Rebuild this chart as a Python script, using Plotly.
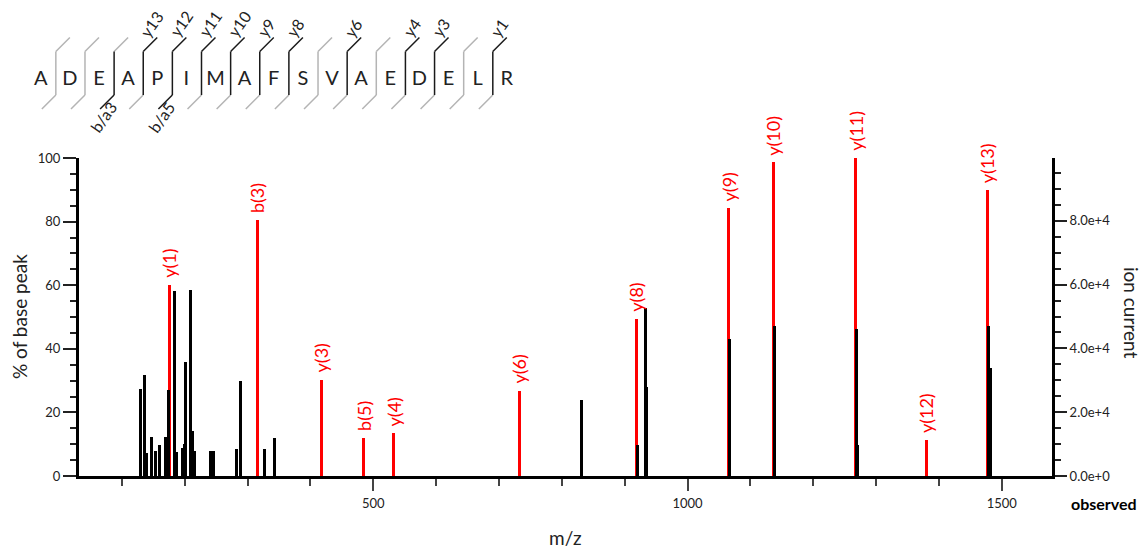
import plotly.graph_objects as go

# ---------------- data ----------------
sequence = list("ADEAPIMAFSVAEDELR")
y_ions_observed = [13, 12, 11, 10, 9, 8, 6, 4, 3, 1]
b_ions_observed = [3, 5]

matched_mz = [175.12, 316.11, 417.25, 484.20, 532.27, 732.35, 918.45,
              1065.52, 1136.56, 1267.60, 1380.68, 1477.74]
matched_pct = [60.0, 80.4, 30.3, 12.1, 13.4, 26.8, 49.4,
               84.2, 98.6, 100.0, 11.2, 89.8]
matched_labels = ["y(1)", "b(3)", "y(3)", "b(5)", "y(4)", "y(6)", "y(8)",
                  "y(9)", "y(10)", "y(11)", "y(12)", "y(13)"]

other_mz = [129.9, 135.6, 138.8, 146.7, 154.2, 159.5, 169.0, 173.8, 183.3,
            187.1, 196.7, 198.8, 200.8, 209.9, 212.6, 215.2, 240.6, 245.0,
            282.0, 288.4, 326.5, 342.5, 831.1, 920.1, 932.8, 935.5, 1066.5,
            1138.1, 1268.6, 1270.8, 1478.8, 1481.5]
other_pct = [27.5, 31.8, 7.1, 12.4, 8.0, 9.9, 12.2, 27.1, 58.2,
             7.7, 8.9, 10.2, 36.0, 58.5, 14.3, 8.0, 8.0, 8.0,
             8.4, 30.0, 8.4, 11.9, 24.0, 9.6, 52.7, 28.1, 43.1,
             47.2, 46.2, 9.9, 47.2, 34.0]

base_peak_current = 99700
mz_range = [31.7, 1580]

# ---------------- style ----------------
W, H = 1145, 549
FONT = "Lato, 'Open Sans', sans-serif"
RED = "#ff0000"
INK = "#222222"
GRAY = "#b4b4b4"
BAR_W = 4.8


def px(x):
    return x / W


def py(y):
    return 1 - y / H


fig = go.Figure()

fig.add_trace(go.Bar(x=matched_mz, y=matched_pct, width=BAR_W,
                     marker=dict(color=RED, line=dict(width=0)),
                     xaxis="x", yaxis="y", hoverinfo="x+y", showlegend=False))
fig.add_trace(go.Bar(x=other_mz, y=other_pct, width=BAR_W,
                     marker=dict(color="#000000", line=dict(width=0)),
                     xaxis="x", yaxis="y", hoverinfo="x+y", showlegend=False))
# trace on the ion-current axis so it is drawn
fig.add_trace(go.Scatter(x=[mz_range[0]], y=[0], mode="markers",
                         marker=dict(size=0.1, opacity=0), xaxis="x", yaxis="y2",
                         hoverinfo="skip", showlegend=False))

annotations = []
for mz, v, t in zip(matched_mz, matched_pct, matched_labels):
    annotations.append(dict(x=mz, y=v, xref="x", yref="y", text=t, showarrow=False,
                            textangle=-90, xanchor="center", yanchor="bottom", yshift=5,
                            font=dict(family=FONT, size=18, color=RED)))

# ---------------- sequence diagram ----------------
n = len(sequence)
fig.add_trace(go.Scatter(x=list(range(n)), y=[80] * n, mode="text", text=sequence,
                         textfont=dict(family=FONT, size=20, color=INK),
                         xaxis="x2", yaxis="y3", hoverinfo="skip", showlegend=False))

TOP, BOT, DX, DY = 51.5, 95, 0.48, 14
gx, gy, kx, ky = [], [], [], []


def seg(xs, ys, on):
    if on:
        kx.extend(xs + [None]); ky.extend(ys + [None])
    else:
        gx.extend(xs + [None]); gy.extend(ys + [None])


for i in range(n - 1):
    s = i + 0.52
    y_num = n - 1 - i
    b_num = i + 1
    y_on = y_num in y_ions_observed
    b_on = b_num in b_ions_observed
    seg([s, s + DX], [TOP, TOP - DY], y_on)
    seg([s, s], [TOP, BOT], y_on or b_on)
    seg([s, s - DX], [BOT, BOT + DY], b_on)
    if y_on:
        annotations.append(dict(x=s - 0.33, y=43, xref="x2", yref="y3", text=f"y{y_num}",
                                showarrow=False, textangle=-55, xanchor="left", yanchor="bottom",
                                font=dict(family=FONT, size=16, color=INK)))
    if b_on:
        annotations.append(dict(x=s + 0.33, y=95, xref="x2", yref="y3", text=f"b/a{b_num}",
                                showarrow=False, textangle=-55, xanchor="right", yanchor="top",
                                font=dict(family=FONT, size=16, color=INK)))

fig.add_trace(go.Scatter(x=gx, y=gy, mode="lines", line=dict(color=GRAY, width=1.5),
                         xaxis="x2", yaxis="y3", hoverinfo="skip", showlegend=False))
fig.add_trace(go.Scatter(x=kx, y=ky, mode="lines", line=dict(color="#1a1a1a", width=1.5),
                         xaxis="x2", yaxis="y3", hoverinfo="skip", showlegend=False))

# ---------------- axis titles ----------------
title_common = dict(xref="paper", yref="paper", showarrow=False,
                    xanchor="center", yanchor="middle")
annotations += [
    dict(x=px(19), y=py(317), text="% of base peak", textangle=-90,
         font=dict(family=FONT, size=19, color=INK), **title_common),
    dict(x=px(1132), y=py(312), text="ion current", textangle=90,
         font=dict(family=FONT, size=19, color=INK), **title_common),
    dict(x=px(565), y=py(537), text="m/z",
         font=dict(family=FONT, size=19, color=INK), **title_common),
    dict(x=px(1104), y=py(503), text="<b>observed</b>",
         font=dict(family=FONT, size=16, color="#000"), **title_common),
]

tickfont = dict(family=FONT, size=13, color=INK)
fig.update_layout(
    width=W, height=H, template="none",
    margin=dict(l=0, r=0, t=0, b=0, pad=0),
    paper_bgcolor="white", plot_bgcolor="white",
    barmode="overlay", bargap=0, showlegend=False,
    annotations=annotations,
    xaxis=dict(domain=[px(79), px(1052)], range=mz_range, anchor="y",
               showline=True, linecolor="#000", linewidth=3, showgrid=False, zeroline=False,
               ticks="outside", ticklen=12, tickwidth=1.5, tickcolor="#444",
               tick0=0, dtick=500, tickfont=tickfont, automargin=False, ticklabelstandoff=1,
               minor=dict(ticks="outside", ticklen=7, tickwidth=1.5, tickcolor="#444",
                          tick0=0, dtick=100, showgrid=False)),
    yaxis=dict(domain=[py(476), py(158)], range=[0, 100], anchor="x",
               showline=True, linecolor="#000", linewidth=3, showgrid=False, zeroline=False,
               ticks="outside", ticklen=13, tickwidth=1.5, tickcolor=INK,
               tick0=0, dtick=20, tickfont=tickfont, automargin=False,
               minor=dict(ticks="outside", ticklen=6, tickwidth=1.5, tickcolor=INK,
                          tick0=0, dtick=5, showgrid=False)),
    yaxis2=dict(overlaying="y", side="right", anchor="x", range=[0, base_peak_current],
                showline=True, linecolor="#000", linewidth=3, showgrid=False, zeroline=False,
                ticks="outside", ticklen=12, tickwidth=1.5, tickcolor=INK,
                tick0=0, dtick=20000, tickformat=".1e", tickfont=tickfont, automargin=False,
                minor=dict(ticks="outside", ticklen=6, tickwidth=1.5, tickcolor=INK,
                           tick0=0, dtick=5000, showgrid=False)),
    xaxis2=dict(domain=[0, 1], range=[-1.397, 37.908], anchor="y3", visible=False,
                fixedrange=True),
    yaxis3=dict(domain=[py(140), 1], range=[140, 0], anchor="x2", visible=False,
                fixedrange=True),
)

fig.write_html("out.html", config={"displayModeBar": False},
               post_script="document.body.style.margin='0';document.body.style.overflow='hidden';")
